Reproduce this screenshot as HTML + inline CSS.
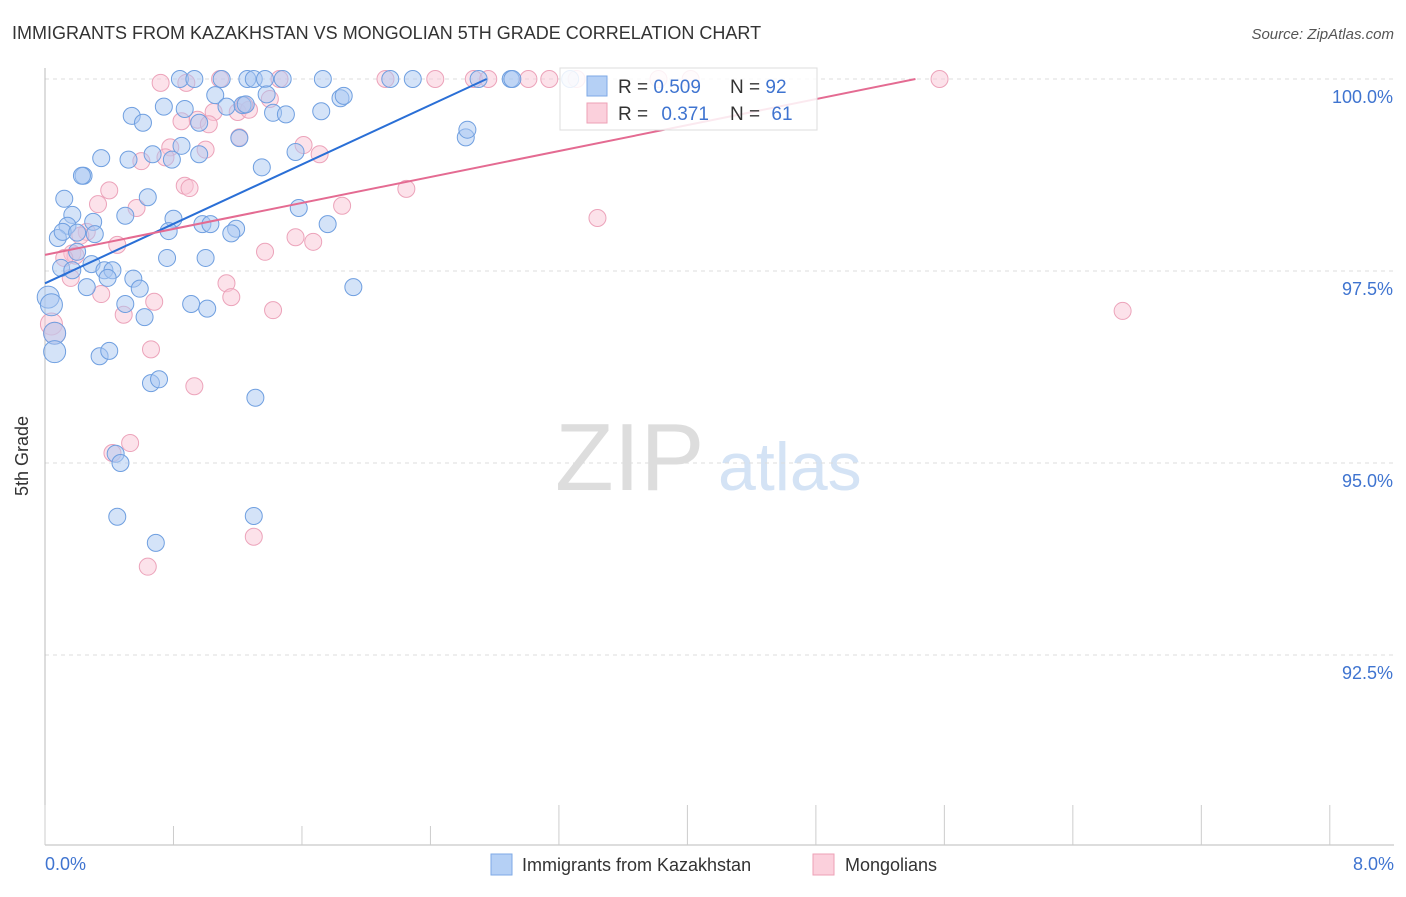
<!DOCTYPE html>
<html><head><meta charset="utf-8"><style>
body{margin:0;background:#fff;font-family:"Liberation Sans",sans-serif}
svg text{font-family:"Liberation Sans",sans-serif}
</style></head><body>
<svg id="chart" width="1406" height="892" viewBox="0 0 1406 892" xmlns="http://www.w3.org/2000/svg">
<text x="12" y="39" font-size="18" fill="#333">IMMIGRANTS FROM KAZAKHSTAN VS MONGOLIAN 5TH GRADE CORRELATION CHART</text>
<text x="1394" y="39" font-size="15" fill="#555" font-style="italic" text-anchor="end">Source: ZipAtlas.com</text>
<text x="555" y="490" font-size="96" fill="#ddd" font-family="Liberation Serif">ZIP</text>
<text x="718" y="490" font-size="68" fill="#d4e3f5">atlas</text>
<g id="grid"></g>
<g id="axes"></g>
<g id="pts-pink"></g>
<g id="pts-blue"></g>
<g id="trends"></g>
<text x="28" y="456" font-size="18" fill="#333" transform="rotate(-90 28 456)" text-anchor="middle">5th Grade</text>
<text x="45" y="870" font-size="18" fill="#3f74d0">0.0%</text>
<text x="1394" y="870" font-size="18" fill="#3f74d0" text-anchor="end">8.0%</text>
<g>
<rect x="560" y="68" width="257" height="62" fill="#fff" fill-opacity="0.85" stroke="#ddd"/>
<rect x="587" y="76" width="20" height="20" fill="#b5d0f5" stroke="#7ea9e6"/>
<text x="618" y="93" font-size="19" fill="#333">R = <tspan fill="#3f74d0">0.509</tspan></text>
<text x="730" y="93" font-size="19" fill="#333">N = <tspan fill="#3f74d0">92</tspan></text>
<rect x="587" y="103" width="20" height="20" fill="#fbd0dc" stroke="#eea0b6"/>
<text x="618" y="120" font-size="19" fill="#333">R = <tspan fill="#3f74d0" dx="8">0.371</tspan></text>
<text x="730" y="120" font-size="19" fill="#333">N = <tspan fill="#3f74d0" dx="6">61</tspan></text>
</g>
<g>
<rect x="491" y="854" width="21" height="21" fill="#b5d0f5" stroke="#7ea9e6"/>
<text x="522" y="871" font-size="18" fill="#333">Immigrants from Kazakhstan</text>
<rect x="813" y="854" width="21" height="21" fill="#fbd0dc" stroke="#eea0b6"/>
<text x="845" y="871" font-size="18" fill="#333">Mongolians</text>
</g>
</svg>
<script>
const yTicks=[100,97.5,95,92.5];
const yTickLabels=["100.0%","97.5%","95.0%","92.5%"];
const xTicks=[0,0.8,1.6,2.4,3.2,4.0,4.8,5.6,6.4,7.2,8.0];
const blueX=[0.84,0.93,1.10,1.26,1.30,1.37,1.48,1.73,2.15,2.29,2.70,2.90,2.91,3.27,0.74,0.87,1.06,1.13,1.23,1.25,1.38,1.42,1.50,1.72,1.84,1.86,0.54,0.61,0.96,1.21,0.85,1.56,1.35,0.96,0.67,0.52,0.35,0.79,0.24,0.23,0.64,0.12,0.17,0.50,0.30,0.14,0.80,0.77,0.98,1.03,1.19,1.16,1.58,1.76,2.62,2.63,0.08,0.11,0.31,0.20,0.20,0.10,0.17,0.29,0.37,0.42,0.39,0.55,0.76,1.00,0.26,0.59,1.92,0.02,0.04,0.50,0.91,1.01,0.62,0.06,0.06,0.34,0.40,0.66,0.71,1.31,0.44,0.47,0.45,1.30,0.69];
const blueY=[100,100,100,100,100,100,100,100,100,100,100,100,100,100,99.64,99.61,99.79,99.64,99.66,99.67,99.80,99.56,99.54,99.58,99.75,99.78,99.52,99.43,99.43,99.23,99.13,99.05,98.85,99.02,99.02,98.95,98.97,98.95,98.74,98.74,98.46,98.44,98.23,98.22,98.14,98.09,98.18,98.02,98.11,98.11,98.05,97.99,98.32,98.11,99.24,99.34,97.93,98.01,97.98,98.00,97.75,97.54,97.51,97.59,97.51,97.51,97.41,97.40,97.67,97.67,97.29,97.27,97.29,97.16,97.06,97.07,97.07,97.01,96.90,96.69,96.45,96.39,96.46,96.04,96.09,95.85,95.12,95.00,94.30,94.31,93.96];
const pinkX=[0.72,0.88,1.09,1.46,2.12,2.43,2.67,2.76,3.01,3.14,3.31,3.82,4.02,5.57,1.05,0.95,0.85,1.02,1.20,1.27,1.40,1.24,1.21,1.00,0.78,0.75,0.60,1.61,1.71,0.40,0.87,0.90,0.33,0.57,2.25,1.85,3.44,0.26,0.22,0.45,1.56,1.67,1.37,0.17,0.19,0.12,0.16,0.35,1.13,1.16,1.42,0.49,0.68,0.04,0.06,0.66,0.93,0.53,0.42,1.30,0.64,6.71];
const pinkY=[99.95,99.95,100,100,100,100,100,100,100,100,100,100,100,100,99.57,99.47,99.45,99.41,99.57,99.60,99.74,99.66,99.24,99.08,99.11,98.98,98.93,99.14,99.02,98.55,98.61,98.58,98.37,98.32,98.57,98.35,98.19,98.01,97.96,97.84,97.94,97.88,97.75,97.73,97.70,97.67,97.41,97.20,97.34,97.16,96.99,96.93,97.10,96.81,96.69,96.48,96.00,95.26,95.13,94.04,93.65,96.98];
const blueTrendX=[0,2.75], blueTrendY=[97.34,100];
const pinkTrendX=[0,5.42], pinkTrendY=[97.71,100];
const NS="http://www.w3.org/2000/svg";
const sx=v=>45+v*160.6;
const sy=v=>79+(100-v)*76.8;
function mk(tag,attrs,parent){const e=document.createElementNS(NS,tag);for(const k in attrs)e.setAttribute(k,attrs[k]);parent.appendChild(e);return e;}
const grid=document.getElementById('grid'),axes=document.getElementById('axes');
yTicks.forEach((t,i)=>{
  const l=mk('line',{x1:45,x2:1394,y1:sy(t),y2:sy(t),stroke:'#ddd','stroke-dasharray':'4,4'},grid);
  
  
  const tx=mk('text',{x:1393,y:sy(t)+24,'font-size':18,fill:'#3f74d0','text-anchor':'end'},axes);
  tx.textContent=yTickLabels[i];
  
  
});
const ya=mk('line',{x1:45,x2:45,y1:68,y2:845,stroke:'#bbb'},axes);


const xa=mk('line',{x1:45,x2:1394,y1:845,y2:845,stroke:'#bbb'},axes);


xTicks.forEach((t,i)=>{
  const tk=mk('line',{x1:sx(t),x2:sx(t),y1:(i>0&&i<4)?826:805,y2:845,stroke:'#ccc'},axes);
  
  
});
function pts(xs,ys,g,fill,stroke,name){
  xs.forEach((x,i)=>{
    const big=x<0.1&&ys[i]<97.2&&ys[i]>96.4;
    const c=mk('circle',{cx:sx(x),cy:sy(ys[i]),r:big?11:8.5,fill:fill,'fill-opacity':0.5,stroke:stroke,'stroke-width':1},g);
    
    
  });
}
pts(pinkX,pinkY,document.getElementById('pts-pink'),'#f9c6d5','#eca3ba','mongolians-point');
pts(blueX,blueY,document.getElementById('pts-blue'),'#a9c8f2','#6f9fe0','kazakhstan-point');
const tr=document.getElementById('trends');
const bl=mk('line',{x1:sx(blueTrendX[0]),y1:sy(blueTrendY[0]),x2:sx(blueTrendX[1]),y2:sy(blueTrendY[1]),stroke:'#2a6fd6','stroke-width':2},tr);


const pl=mk('line',{x1:sx(pinkTrendX[0]),y1:sy(pinkTrendY[0]),x2:sx(pinkTrendX[1]),y2:sy(pinkTrendY[1]),stroke:'#e46b92','stroke-width':2},tr);


</script>
</body></html>
